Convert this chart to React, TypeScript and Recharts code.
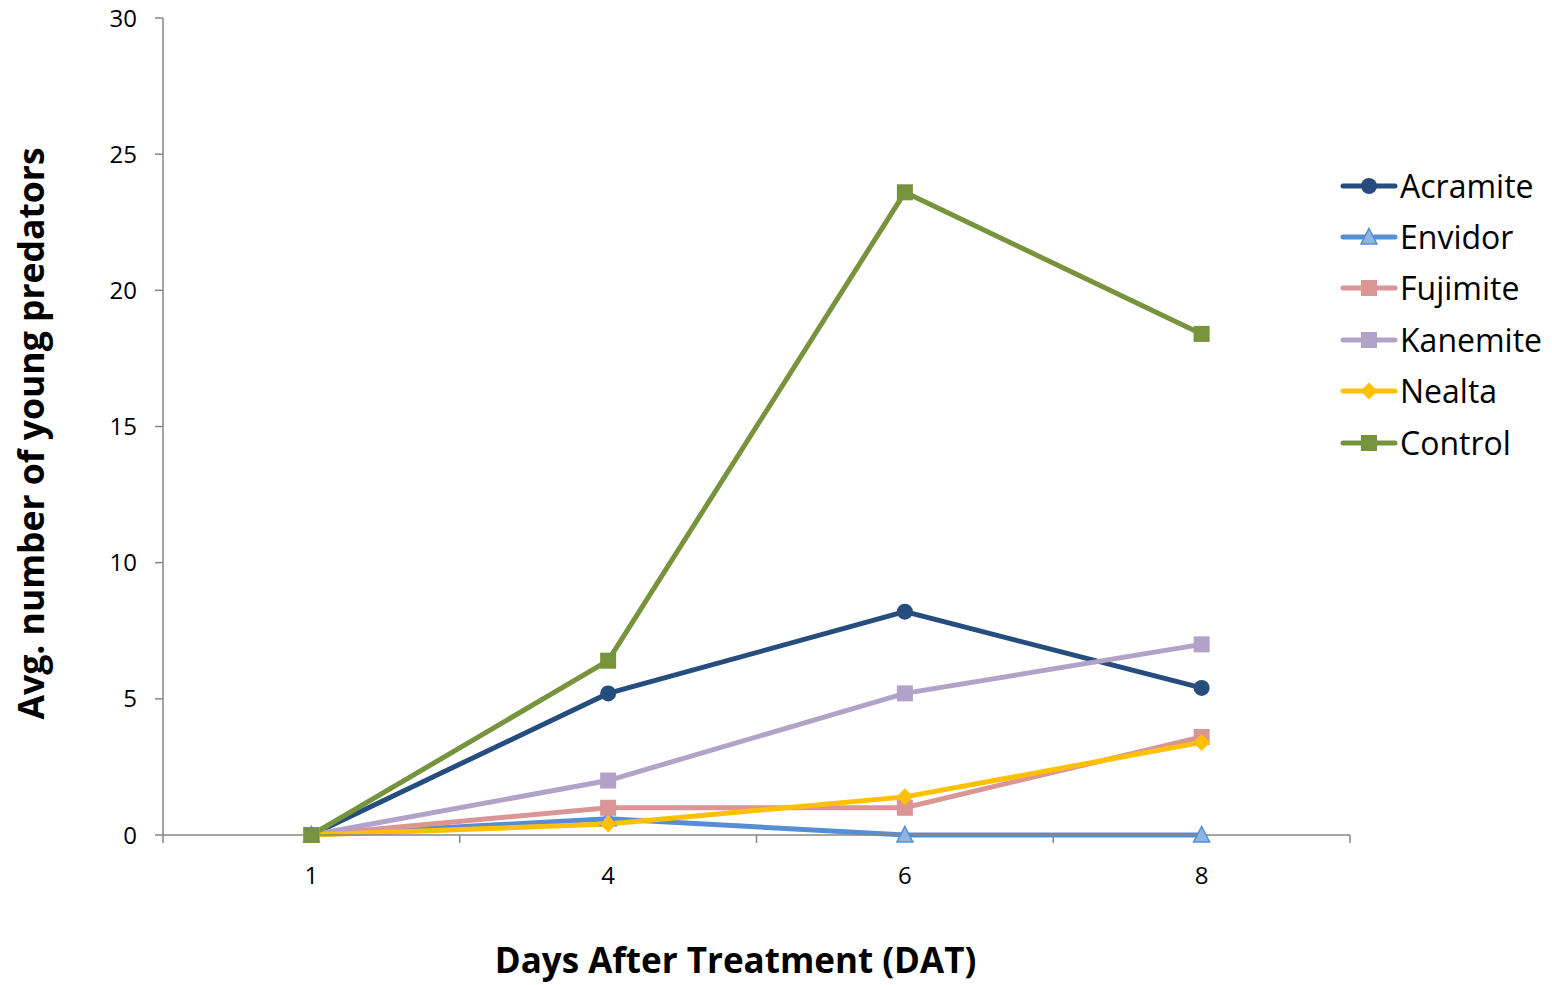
import React from "react";
import { LineChart, Line, XAxis, YAxis, Label } from "recharts";

const days = ["1", "4", "6", "8"];
const acramite = [0, 5.2, 8.2, 5.4];
const envidor = [0, 0.6, 0, 0];
const fujimite = [0, 1.0, 1.0, 3.6];
const kanemite = [0, 2.0, 5.2, 7.0];
const nealta = [0, 0.4, 1.4, 3.4];
const control = [0, 6.4, 23.6, 18.4];
const yTicks = [0, 5, 10, 15, 20, 25, 30];
const xBounds = [-0.5, 0.5, 1.5, 2.5, 3.5];

const data = days.map((d, i) => ({
  idx: i,
  day: d,
  Acramite: acramite[i],
  Envidor: envidor[i],
  Fujimite: fujimite[i],
  Kanemite: kanemite[i],
  Nealta: nealta[i],
  Control: control[i],
}));

type Shape = "circle" | "triangle" | "square" | "diamond";

const series: { key: string; color: string; fill: string; shape: Shape }[] = [
  { key: "Acramite", color: "#254E7E", fill: "#254E7E", shape: "circle" },
  { key: "Envidor", color: "#558ED5", fill: "#8EB4E3", shape: "triangle" },
  { key: "Fujimite", color: "#D99694", fill: "#D99694", shape: "square" },
  { key: "Kanemite", color: "#B3A2C7", fill: "#B3A2C7", shape: "square" },
  { key: "Nealta", color: "#FFC000", fill: "#FFC000", shape: "diamond" },
  { key: "Control", color: "#77933C", fill: "#77933C", shape: "square" },
];

const FONT = "'Open Sans', sans-serif";
const GRAY = "#868686";

function marker(shape: Shape, cx: number, cy: number, color: string, fill: string, k?: React.Key) {
  if (shape === "circle") return <circle key={k} cx={cx} cy={cy} r={8} fill={fill} />;
  if (shape === "square")
    return <rect key={k} x={cx - 8} y={cy - 8} width={16} height={16} fill={fill} />;
  if (shape === "diamond")
    return (
      <polygon key={k} points={`${cx},${cy - 8.5} ${cx + 8.5},${cy} ${cx},${cy + 8.5} ${cx - 8.5},${cy}`} fill={fill} />
    );
  return (
    <polygon
      key={k}
      points={`${cx},${cy - 8.5} ${cx + 8},${cy + 7} ${cx - 8},${cy + 7}`}
      fill={fill}
      stroke={color}
      strokeWidth={1.5}
    />
  );
}

const XTick = (props: any) => {
  const { x, y, payload } = props;
  const i = Math.round(payload.value + 0.5);
  if (i < 0 || i >= days.length) return null;
  const half = 1187 / 8;
  return (
    <text x={x + half} y={y + 39} textAnchor="middle" fontSize={24} fill="#000" fontFamily={FONT}>
      {days[i]}
    </text>
  );
};

const LegendBox = () => (
  <div style={{ position: "absolute", left: 1340, top: 160 }}>
    {series.map((s) => (
      <div key={s.key} style={{ display: "flex", alignItems: "center", height: 51.4 }}>
        <svg width={60} height={24}>
          <line x1={3} y1={12} x2={55} y2={12} stroke={s.color} strokeWidth={5} strokeLinecap="round" />
          {marker(s.shape, 29, 12, s.color, s.fill)}
        </svg>
        <span style={{ fontFamily: FONT, fontSize: 32, color: "#000", lineHeight: 1 }}>{s.key}</span>
      </div>
    ))}
  </div>
);

export default function App() {
  return (
    <div style={{ position: "relative", width: 1552, height: 985, margin: "-8px 0 0 -8px" }}>
      <LineChart
        width={1552}
        height={985}
        data={data}
        margin={{ top: 18, right: 202, left: 0, bottom: 0 }}
      >
        <XAxis
          dataKey="idx"
          type="number"
          domain={[-0.5, 3.5]}
          ticks={xBounds}
          interval={0}
          height={150}
          stroke={GRAY}
          tickSize={8}
          tick={<XTick />}
          axisLine={{ stroke: GRAY, strokeWidth: 1.5 }}
          tickLine={{ stroke: GRAY, strokeWidth: 1.5 }}
        >
          <Label
            content={(p: any) => {
              const vb = p.viewBox;
              return (
                <text
                  x={vb.x + vb.width / 2 - 21}
                  y={vb.y + 138}
                  textAnchor="middle"
                  fontSize={35}
                  fontWeight="bold"
                  fontFamily={FONT}
                  fill="#000"
                >
                  Days After Treatment (DAT)
                </text>
              );
            }}
          />
        </XAxis>
        <YAxis
          type="number"
          domain={[0, 30]}
          ticks={yTicks}
          width={163}
          tickSize={8}
          tickMargin={18}
          stroke={GRAY}
          axisLine={{ stroke: GRAY, strokeWidth: 1.5 }}
          tickLine={{ stroke: GRAY, strokeWidth: 1.5 }}
          tick={{ fill: "#000", fontSize: 24, fontFamily: FONT }}
        >
          <Label
            content={(p: any) => {
              const vb = p.viewBox;
              const cy = vb.y + vb.height / 2 + 7;
              return (
                <text
                  x={30}
                  y={cy}
                  transform={`rotate(-90, 30, ${cy})`}
                  textAnchor="middle"
                  dominantBaseline="central"
                  fontSize={35.5}
                  fontWeight="bold"
                  fontFamily={FONT}
                  fill="#000"
                >
                  Avg. number of young predators
                </text>
              );
            }}
          />
        </YAxis>
        {series.map((s) => (
          <Line
            key={s.key}
            dataKey={s.key}
            stroke={s.color}
            strokeWidth={5}
            isAnimationActive={false}
            dot={(p: any) => marker(s.shape, p.cx, p.cy, s.color, s.fill, `${s.key}-${p.index}`)}
            activeDot={false}
          />
        ))}
      </LineChart>
      <LegendBox />
    </div>
  );
}
